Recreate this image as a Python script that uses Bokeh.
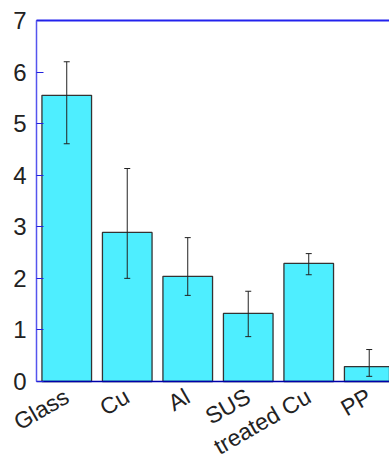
from bokeh.plotting import figure
from bokeh.models import Range1d, FixedTicker, ColumnDataSource, Whisker, TeeHead, LinearAxis
from bokeh.embed import file_html
from bokeh.resources import INLINE
import math

categories = ["Glass", "Cu", "Al", "SUS", "treated Cu", "PP"]
values = [5.55, 2.89, 2.04, 1.32, 2.29, 0.29]
err_upper = [6.20, 4.13, 2.79, 1.75, 2.48, 0.62]
err_lower = [4.61, 2.00, 1.67, 0.87, 2.07, 0.10]
y_ticks = [0, 1, 2, 3, 4, 5, 6, 7]

xs = list(range(len(categories)))
src = ColumnDataSource(dict(x=xs, top=values, upper=err_upper, lower=err_lower))

# layout: the frame fills the whole canvas, axes are drawn at fixed places inside it
W, H = 389, 458
TOP_PX, LEFT_PX, ZERO_PX = 20, 36, 381
x0, x1 = -0.5, 5.335
y0, y1 = y_ticks[0], y_ticks[-1]
ys = (ZERO_PX - TOP_PX) / (y1 - y0)
xsc = (W - LEFT_PX) / (x1 - x0)
x_lo = x0 - LEFT_PX / xsc
y_lo = y0 - (H - ZERO_PX) / ys
y_hi = y1 + TOP_PX / ys

p = figure(width=W, height=H, output_backend="svg", toolbar_location=None,
           x_range=Range1d(x_lo, x1), y_range=Range1d(y_lo, y_hi),
           min_border=0)
p.outline_line_color = None
p.xgrid.grid_line_color = None
p.ygrid.grid_line_color = None

p.vbar(x="x", top="top", width=0.82, bottom=0, source=src,
       fill_color="#4EEEFF", line_color="#333333", line_width=1.3)

w = Whisker(base="x", upper="upper", lower="lower", source=src, level="overlay",
            line_color="#222222", line_width=1,
            upper_head=TeeHead(size=6, line_color="#222222", line_width=1),
            lower_head=TeeHead(size=6, line_color="#222222", line_width=1))
p.add_layout(w)

font = "Liberation Sans"
p.yaxis.fixed_location = x0
p.yaxis.ticker = FixedTicker(ticks=y_ticks)
p.yaxis.bounds = (y0, y1)
p.yaxis.axis_line_color = "#5555ee"
p.yaxis.axis_line_width = 1.5
p.yaxis.major_tick_line_color = "#2222dd"
p.yaxis.major_tick_in = 7
p.yaxis.major_tick_out = 0
p.yaxis.minor_tick_line_color = None
p.yaxis.major_label_text_font = font
p.yaxis.major_label_text_font_size = "24px"
p.yaxis.major_label_text_color = "#222222"
p.yaxis.major_label_standoff = 10

p.xaxis.fixed_location = y0
p.xaxis.bounds = (x0, x1)
p.xaxis.ticker = FixedTicker(ticks=xs)
p.xaxis.major_label_overrides = {i: c for i, c in enumerate(categories)}
p.xaxis.axis_line_color = "#0000aa"
p.xaxis.axis_line_width = 1.5
p.xaxis.major_tick_line_color = None
p.xaxis.major_tick_out = 0
p.xaxis.major_tick_in = 0
p.xaxis.minor_tick_line_color = None
p.xaxis.major_label_orientation = math.pi / 6
p.xaxis.major_label_text_font = font
p.xaxis.major_label_text_font_size = "23px"
p.xaxis.major_label_text_color = "#222222"
p.xaxis.major_label_standoff = 13

top_axis = LinearAxis(fixed_location=y1, bounds=(x0, x1), ticker=FixedTicker(ticks=[]),
                      axis_line_color="#2222ee", axis_line_width=1.8,
                      major_tick_line_color=None, minor_tick_line_color=None,
                      major_label_text_font_size="0px")
p.add_layout(top_axis, "above")

open("out.html", "w").write(file_html(p, INLINE))
